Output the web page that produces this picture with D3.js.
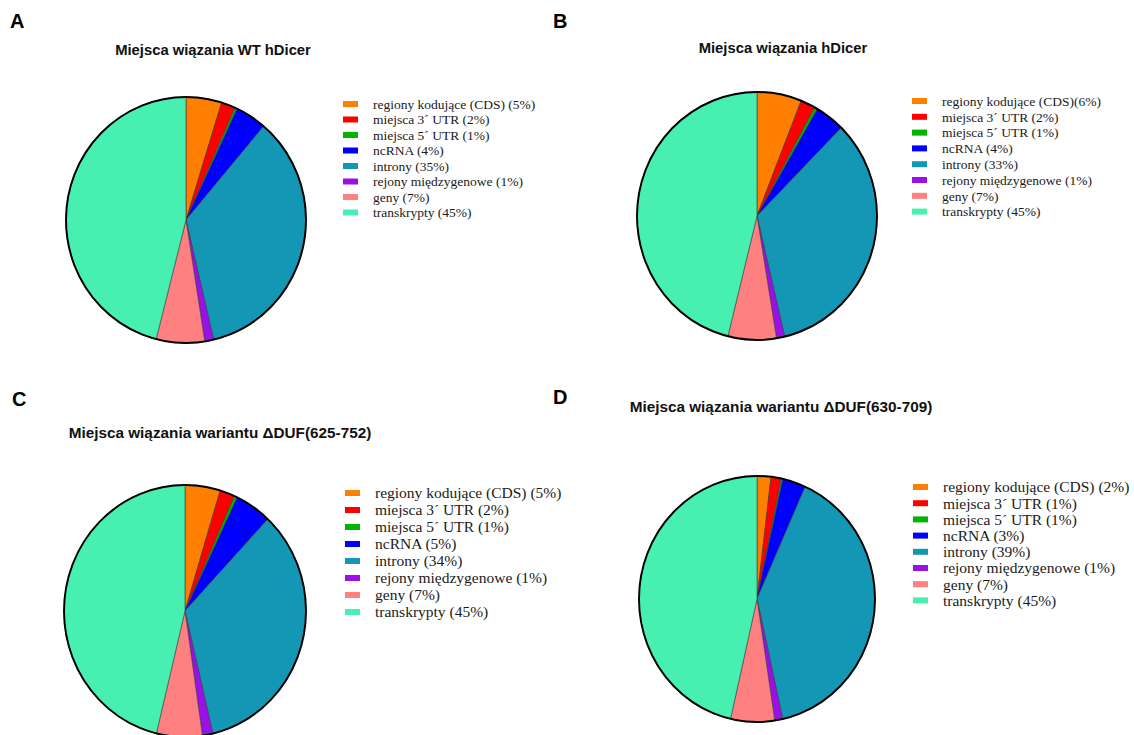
<!DOCTYPE html>
<html>
<head>
<meta charset="utf-8">
<script src="https://cdn.jsdelivr.net/npm/d3@7"></script>
<style>
  body { margin: 0; background: #fff; }
  svg { display: block; }
</style>
</head>
<body>
<script>
// data
var categories = ["regiony kodujące (CDS)", "miejsca 3´ UTR", "miejsca 5´ UTR", "ncRNA",
                  "introny", "rejony międzygenowe", "geny", "transkrypty"];
var colors = ["#ff8000", "#ff0000", "#00b400", "#0000ff", "#1497b4", "#9a10e8", "#ff8080", "#47f0b0"];

// slice sizes (as drawn)
var valuesA = [4.8, 1.9, 0.3, 4.2, 35.1, 1.2, 6.5, 46.0];
var valuesB = [6.0, 2.0, 0.4, 4.0, 33.9, 1.1, 6.5, 46.1];
var valuesC = [4.7, 2.0, 0.4, 4.9, 34.3, 1.4, 6.1, 46.2];
var valuesD = [1.9, 1.4, 0.2, 3.2, 39.8, 1.1, 6.0, 46.4];

// percentages printed in the legends
var pctA = [5, 2, 1, 4, 35, 1, 7, 45];
var pctB = [6, 2, 1, 4, 33, 1, 7, 45];
var pctC = [5, 2, 1, 5, 34, 1, 7, 45];
var pctD = [2, 1, 1, 3, 39, 1, 7, 45];

var letters = ["A", "B", "C", "D"];
var titles = ["Miejsca wiązania WT hDicer", "Miejsca wiązania hDicer",
              "Miejsca wiązania wariantu ΔDUF(625-752)", "Miejsca wiązania wariantu ΔDUF(630-709)"];

//setup SVG area
var svgWidth = 1134;
var svgHeight = 735;

var svg = d3.select("body")
    .append("svg")
    .attr("width", svgWidth)
    .attr("height", svgHeight);

// panel layout
var panels = [
  {values: valuesA, pct: pctA, letter: [10, 28], title: [213, 55], tsize: 14.8, cx: 186, cy: 220, rx: 120, ry: 123,
   leg: [343, 104], step: 15.5, font: 13.5, sep: " "},
  {values: valuesB, pct: pctB, letter: [553, 28], title: [783, 53], tsize: 14.8, cx: 757, cy: 216, rx: 120, ry: 124,
   leg: [912, 101], step: 15.8, font: 13.5, sep: ""},
  {values: valuesC, pct: pctC, letter: [12, 406], title: [220, 438], tsize: 15.3, cx: 185, cy: 611, rx: 121, ry: 126,
   leg: [345, 493], step: 17, font: 15.5, sep: " "},
  {values: valuesD, pct: pctD, letter: [553, 404], title: [781, 412], tsize: 15.3, cx: 757, cy: 599, rx: 118, ry: 123,
   leg: [913, 487], step: 16.2, font: 15.5, sep: " "}
];

var pie = d3.pie().sort(null).value(function(d) { return d; });

panels.forEach(function(p, i) {
  var g = svg.append("g");

  // panel letter
  g.append("text")
    .attr("x", p.letter[0])
    .attr("y", p.letter[1])
    .attr("font-family", "Liberation Sans, Arial, sans-serif")
    .attr("font-weight", "bold")
    .attr("font-size", 20)
    .text(letters[i]);

  // title
  g.append("text")
    .attr("x", p.title[0])
    .attr("y", p.title[1])
    .attr("text-anchor", "middle")
    .attr("font-family", "Liberation Sans, Arial, sans-serif")
    .attr("font-weight", "bold")
    .attr("font-size", p.tsize)
    .attr("fill", "#111")
    .text(titles[i]);

  // pie, slightly squeezed horizontally like the picture
  var r = p.ry;
  var arc = d3.arc().innerRadius(0).outerRadius(r);
  var pieG = g.append("g")
    .attr("transform", `translate(${p.cx},${p.cy}) scale(${p.rx / p.ry},1)`);

  pieG.selectAll("path.slice")
    .data(pie(p.values))
    .enter()
    .append("path")
    .attr("class", "slice")
    .attr("d", arc)
    .attr("fill", function(d, j) { return colors[j]; })
    .attr("stroke", "#3a3a3a")
    .attr("stroke-width", 0.6);

  pieG.append("circle")
    .attr("r", r)
    .attr("fill", "none")
    .attr("stroke", "#000")
    .attr("stroke-width", 2);

  // legend
  var leg = g.append("g").attr("transform", `translate(${p.leg[0]},${p.leg[1]})`);
  var rows = leg.selectAll("g")
    .data(categories)
    .enter()
    .append("g")
    .attr("transform", function(d, j) { return `translate(0,${j * p.step})`; });

  rows.append("rect")
    .attr("x", 0)
    .attr("y", -3)
    .attr("width", 15)
    .attr("height", 6)
    .attr("fill", function(d, j) { return colors[j]; });

  rows.append("text")
    .attr("x", 30)
    .attr("y", 0)
    .attr("dy", "0.35em")
    .attr("font-family", "Liberation Serif, Times New Roman, serif")
    .attr("font-size", p.font)
    .attr("fill", "#1a1a1a")
    .text(function(d, j) {
      var s = (j === 0) ? p.sep : " ";
      return d + s + "(" + p.pct[j] + "%)";
    });
});
</script>
</body>
</html>
